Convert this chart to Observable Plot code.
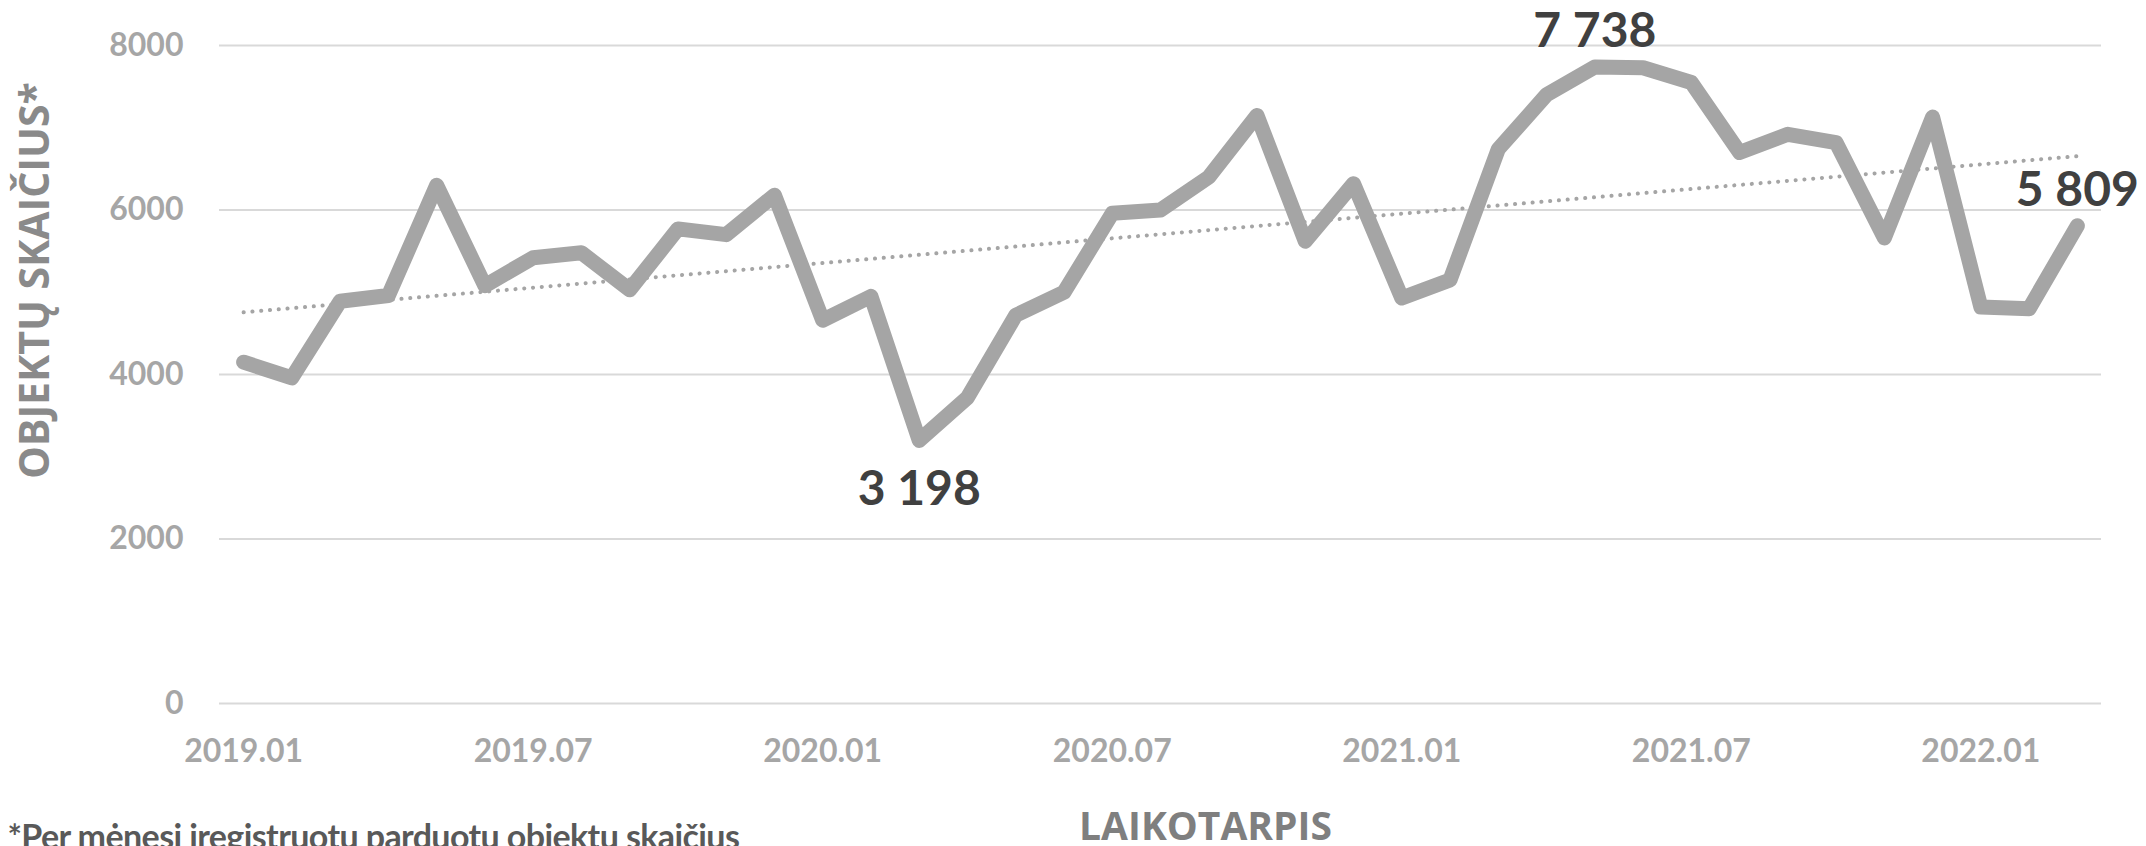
<!DOCTYPE html>
<html>
<head>
<meta charset="utf-8">
<script src="https://cdn.jsdelivr.net/npm/d3@7"></script>
<script src="https://cdn.jsdelivr.net/npm/@observablehq/plot@0.6"></script>
<style>
  html, body { margin: 0; padding: 0; background: #ffffff; }
  #chart { width: 2146px; height: 846px; overflow: hidden; }
</style>
</head>
<body>
<div id="chart"></div>
<script>
// Monthly categories
const months = [
  "2019.01","2019.02","2019.03","2019.04","2019.05","2019.06","2019.07","2019.08","2019.09","2019.10","2019.11","2019.12",
  "2020.01","2020.02","2020.03","2020.04","2020.05","2020.06","2020.07","2020.08","2020.09","2020.10","2020.11","2020.12",
  "2021.01","2021.02","2021.03","2021.04","2021.05","2021.06","2021.07","2021.08","2021.09","2021.10","2021.11","2021.12",
  "2022.01","2022.02","2022.03"
];
// Number of registered sold objects per month
const counts = [
  4150, 3960, 4890, 4960, 6300, 5080, 5420, 5480, 5030, 5770, 5700, 6180,
  4660, 4950, 3198, 3720, 4720, 5000, 5960, 6000, 6400, 7150, 5620, 6320,
  4930, 5150, 6740, 7400, 7738, 7730, 7550, 6700, 6920, 6820, 5660, 7130,
  4820, 4800, 5809
];
// Annotated months and label placement
const labelledMonths = ["2020.03", "2021.05", "2022.03"];
const labelSides = ["below", "above", "above"];
// Axis ticks
const xTickMonths = ["2019.01","2019.07","2020.01","2020.07","2021.01","2021.07","2022.01"];
const yTicks = [0, 2000, 4000, 6000, 8000];
// Texts
const yTitle = "OBJEKTŲ SKAIČIUS*";
const xTitle = "LAIKOTARPIS";
const footnote = "*Per mėnesį įregistruotų parduotų objektų skaičius";

const data = months.map((m, i) => ({i, month: m, v: counts[i]}));
const labelData = labelledMonths.map((m, k) => {
  const i = months.indexOf(m);
  return {i, v: counts[i], side: labelSides[k]};
});
const fmt = d3.formatLocale({decimal: ",", thousands: " ", grouping: [3]}).format(",d");
const xTicks = xTickMonths.map(m => months.indexOf(m));

const chart = Plot.plot({
  width: 2146,
  height: 846,
  marginLeft: 219,
  marginRight: 45,
  marginTop: 45,
  marginBottom: 143,
  style: {fontFamily: "Lato, 'Noto Sans', sans-serif", background: "#ffffff", overflow: "visible"},
  x: {type: "linear", domain: [-0.5, months.length - 0.5]},
  y: {domain: [0, 8000]},
  marks: [
    Plot.ruleY(yTicks, {stroke: "#d9d9d9", strokeWidth: 2}),
    Plot.axisY({ticks: yTicks, tickSize: 0, tickPadding: 36, tickFormat: d => String(d),
      fontSize: 32, fontWeight: "bold", color: "#a6a6a6", label: null}),
    Plot.axisX({ticks: xTicks, tickSize: 0, tickPadding: 36, tickFormat: i => months[i],
      fontSize: 32, fontWeight: "bold", color: "#a6a6a6", label: null}),
    Plot.linearRegressionY(data, {x: "i", y: "v", ci: 0, stroke: "#a5a5a5", strokeWidth: 4,
      strokeDasharray: "0.1 8.7", strokeLinecap: "round"}),
    Plot.line(data, {x: "i", y: "v", stroke: "#a5a5a5", strokeWidth: 15,
      strokeLinejoin: "round", strokeLinecap: "round"}),
    Plot.text(labelData.filter(d => d.side === "above"), {x: "i", y: "v", text: d => fmt(d.v),
      dy: -20, lineAnchor: "bottom", fontSize: 48, fontWeight: "bold", fill: "#404040"}),
    Plot.text(labelData.filter(d => d.side === "below"), {x: "i", y: "v", text: d => fmt(d.v),
      dy: 30, lineAnchor: "top", fontSize: 48, fontWeight: "bold", fill: "#404040"}),
    Plot.text([yTitle], {text: d => d, frameAnchor: "top-left", dx: -184, dy: 235, rotate: -90,
      textAnchor: "middle", lineAnchor: "middle", fontSize: 41, fontWeight: "bold",
      fontFamily: "'Open Sans', sans-serif", fill: "#8a8a8a"}),
    Plot.text([xTitle], {text: d => d, frameAnchor: "bottom", dx: 45, dy: 136,
      textAnchor: "middle", lineAnchor: "bottom", fontSize: 39, fontWeight: "bold",
      fontFamily: "'Open Sans', sans-serif", fill: "#7f7f7f"}),
    Plot.text([footnote], {text: d => d, frameAnchor: "bottom-left", dx: -212, dy: 145,
      textAnchor: "start", lineAnchor: "bottom", fontSize: 34, fontWeight: "bold",
      fill: "#595959"})
  ]
});
// condense the footnote slightly, as in the original
d3.select(chart).selectAll("text")
  .filter(function() { return this.textContent === footnote; })
  .style("letter-spacing", "-0.6px");
document.getElementById("chart").appendChild(chart);
</script>
</body>
</html>
